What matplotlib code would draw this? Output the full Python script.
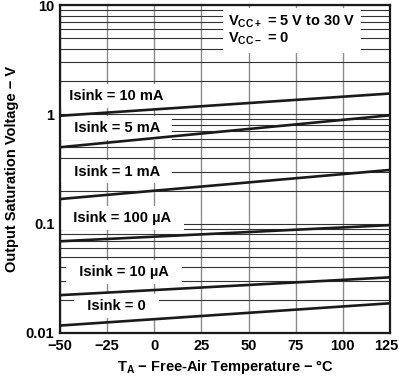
import numpy as np
import matplotlib
matplotlib.use("Agg")
import matplotlib.pyplot as plt
from matplotlib.ticker import FixedLocator, NullFormatter
from matplotlib.transforms import ScaledTranslation

plt.rcParams['font.family'] = ['Liberation Sans', 'DejaVu Sans']
plt.rcParams['mathtext.default'] = 'regular'

# temperature end points (deg C)
temps = [-50, 125]
# output saturation voltage at -50 and 125 C, per sink current
labels = ["Isink = 10 mA", "Isink = 5 mA", "Isink = 1 mA",
          "Isink = 100 \u00b5A", "Isink = 10 \u00b5A", "Isink = 0"]
v_10ma = [0.97, 1.55]
v_5ma = [0.50, 0.98]
v_1ma = [0.168, 0.31]
v_100ua = [0.069, 0.097]
v_10ua = [0.0222, 0.0323]
v_0 = [0.0117, 0.0187]
series = [v_10ma, v_5ma, v_1ma, v_100ua, v_10ua, v_0]

# label anchor positions (x in deg C, y in V)
label_pos = [(-20, 1.47), (-20, 0.75), (-20, 0.30),
             (-17, 0.112), (-16, 0.036), (-20, 0.0176)]

FS = 10.5

fig = plt.figure(figsize=(3.99, 3.77), dpi=100)
ax = fig.add_axes([60 / 399, 1 - 333 / 377, 330 / 399, 328 / 377])

ax.set_yscale("log")
ax.set_xlim(-50, 125)
ax.set_ylim(0.01, 10)

# grid: vertical every 25, horizontal at every 1..9 of each decade
xt = np.arange(-50, 126, 25)
ax.set_xticks(xt)
ax.set_xticklabels(["\u221250", "\u221225", "0", "25", "50", "75", "100", "125"])
ax.set_yticks([0.01, 0.1, 1, 10])
ax.set_yticklabels(["0.01", "0.1", "1", "10"])
minor = [m * 10.0 ** e for e in (-2, -1, 0) for m in range(2, 10)]
ax.yaxis.set_minor_locator(FixedLocator(minor))
ax.yaxis.set_minor_formatter(NullFormatter())
ax.tick_params(which="both", length=0, labelsize=FS, pad=4)
for lb in ax.get_xticklabels() + ax.get_yticklabels():
    lb.set_fontweight("bold")

# last x label sits a little left so it fits in the picture
last = ax.get_xticklabels()[-1]
last.set_transform(last.get_transform() + ScaledTranslation(-2.5 / 72, 0, fig.dpi_scale_trans))

ax.grid(True, axis="x", which="major", color="#8c8c8c", linewidth=1.0)
ax.grid(True, axis="y", which="both", color="#333333", linewidth=0.8)
ax.set_axisbelow(True)

for s in ax.spines.values():
    s.set_linewidth(1.6)
    s.set_color("#1a1a1a")

for vals in series:
    ax.plot(temps, vals, color="#1a1a1a", linewidth=1.9, solid_capstyle="butt", zorder=3)

box = dict(facecolor="white", edgecolor="none", pad=3.5)
for txt, (x, y) in zip(labels, label_pos):
    ax.text(x, y, "  " + txt + "  ", ha="center", va="center", fontsize=FS,
            fontweight="bold", bbox=box, zorder=2)

ax.text(0.51, 0.975,
        "V$_{CC+}$ = 5 V to 30 V\nV$_{CC\u2212}$ = 0",
        transform=ax.transAxes, ha="left", va="top", fontsize=FS,
        fontweight="bold", linespacing=1.1,
        bbox=dict(facecolor="white", edgecolor="none", pad=4), zorder=2)

ax.set_xlabel("T$_A$ \u2212 Free-Air Temperature \u2212 \u00b0C",
              fontsize=FS, fontweight="bold", labelpad=4)
ax.set_ylabel("Output Saturation Voltage \u2212 V",
              fontsize=FS, fontweight="bold", labelpad=5)

fig.savefig("out.png", dpi=100)
